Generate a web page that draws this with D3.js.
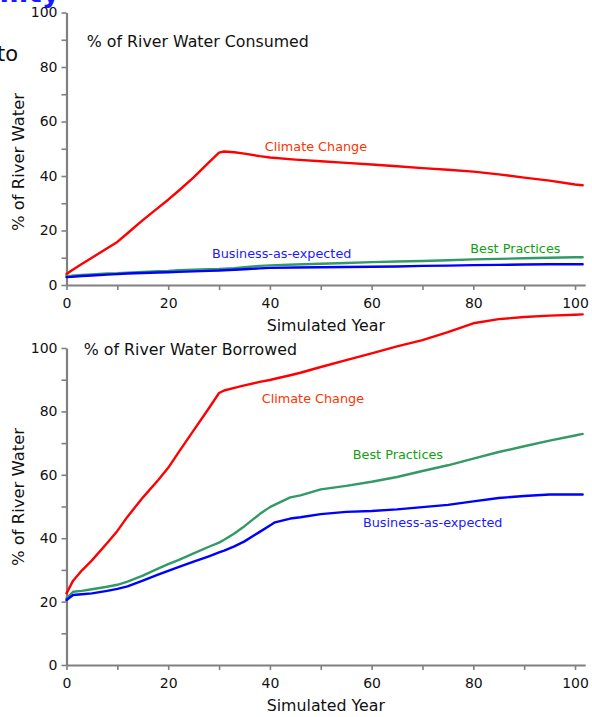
<!DOCTYPE html>
<html>
<head>
<meta charset="utf-8">
<script src="https://cdn.jsdelivr.net/npm/d3@7"></script>
<style>
  html, body { margin: 0; padding: 0; background: #fff; }
  svg { display: block; }
  text { font-family: "Comic Sans MS", "DejaVu Sans", sans-serif; }
</style>
</head>
<body>
<svg id="chart" width="592" height="717"></svg>
<script>
// ---------- DATA ----------
const xTicks = [0, 10, 20, 30, 40, 50, 60, 70, 80, 90, 100];
const yTicks = [0, 10, 20, 30, 40, 50, 60, 70, 80, 90, 100];
const seriesNames = ["Climate Change", "Best Practices", "Business-as-expected"];

// Chart 1: % of River Water Consumed
const consumedYears = [0, 1, 3, 5, 8, 10, 12, 15, 18, 20, 22, 25, 28, 30, 31, 33, 35, 38, 40, 45, 50, 55, 60, 65, 70, 75, 80, 85, 90, 95, 100, 101.5];
const consumedClimate = [4.0, 5.3, 7.7, 10.0, 13.5, 15.8, 19.0, 23.8, 28.3, 31.3, 34.5, 39.5, 45.0, 48.6, 49.0, 48.7, 48.2, 47.3, 46.8, 46.0, 45.4, 44.8, 44.2, 43.6, 42.9, 42.3, 41.6, 40.6, 39.4, 38.3, 36.9, 36.6];
const consumedBest = [3.3, 3.4, 3.7, 3.9, 4.2, 4.3, 4.5, 4.8, 5.1, 5.2, 5.4, 5.6, 5.8, 5.9, 6.0, 6.2, 6.5, 7.0, 7.2, 7.5, 7.8, 8.1, 8.4, 8.6, 8.8, 9.1, 9.4, 9.6, 9.8, 10.0, 10.2, 10.2];
const consumedBusiness = [2.9, 3.0, 3.3, 3.5, 3.8, 4.0, 4.2, 4.4, 4.6, 4.7, 4.8, 5.0, 5.2, 5.3, 5.4, 5.6, 5.8, 6.1, 6.3, 6.4, 6.5, 6.6, 6.7, 6.8, 7.0, 7.1, 7.3, 7.4, 7.5, 7.6, 7.6, 7.6];

// Chart 2: % of River Water Borrowed
const borrowedYears = [0, 1.3, 3, 5, 8, 10, 12, 15, 18, 20, 22, 25, 28, 30, 31, 33, 35, 38, 40, 41, 44, 46, 50, 55, 60, 65, 70, 75, 80, 85, 90, 95, 100, 101.5];
const borrowedClimate = [22.6, 26.6, 29.8, 33.0, 38.5, 42.3, 46.8, 52.8, 58.3, 62.2, 67.0, 74.0, 81.0, 85.8, 86.6, 87.4, 88.2, 89.3, 89.9, 90.3, 91.4, 92.2, 94.0, 96.2, 98.3, 100.5, 102.5, 105.0, 107.8, 109.1, 109.8, 110.2, 110.5, 110.6];
const borrowedBest = [21.0, 23.1, 23.4, 23.9, 24.7, 25.3, 26.3, 28.2, 30.4, 31.8, 33.1, 35.2, 37.3, 38.6, 39.5, 41.5, 43.8, 47.6, 49.8, 50.6, 52.9, 53.5, 55.4, 56.5, 57.8, 59.3, 61.2, 63.0, 65.1, 67.2, 69.0, 70.8, 72.4, 72.9];
const borrowedBusiness = [20.5, 22.1, 22.3, 22.6, 23.4, 24.0, 24.8, 26.6, 28.5, 29.7, 30.9, 32.6, 34.3, 35.5, 36.1, 37.4, 39.0, 42.0, 44.0, 45.0, 46.2, 46.6, 47.6, 48.3, 48.6, 49.1, 49.8, 50.5, 51.6, 52.7, 53.3, 53.8, 53.8, 53.8];

// Label anchor positions (data coordinates: [year, value])
const consumedLabelPos = [[39.0, 49.2], [79.4, 11.7], [28.6, 9.9]];
const borrowedLabelPos = [[38.4, 82.5], [56.3, 65.1], [58.3, 43.5]];

// ---------- STYLE ----------
const lineColors = ["#ff0000", "#339966", "#0000ff"];
const labelColors = ["#ff3300", "#11a011", "#1a1aff"];
const axisColor = "#808080";
const fontStack = "\"Comic Sans MS\", \"DejaVu Sans\", sans-serif";

const svg = d3.select("#chart");

// page fragments from the surrounding slide (cut off at the edges, as in the source)
svg.append("text").attr("x", 60).attr("y", 2).attr("text-anchor", "end")
  .attr("font-size", 28).attr("font-weight", "bold").attr("fill", "#1a1aff").text("Sustainability");
svg.append("text").attr("x", 18).attr("y", 61).attr("text-anchor", "end")
  .attr("font-size", 21).attr("fill", "#111").text("to");

function drawChart(cfg) {
  const x = d3.scaleLinear().domain([0, 102]).range([66.5, 585.2]);
  const y = d3.scaleLinear().domain([0, 100]).range([cfg.y0, cfg.y100]);
  const g = svg.append("g");

  // axes
  const xAxis = d3.axisBottom(x).tickValues(xTicks).tickSize(5).tickSizeOuter(0)
    .tickPadding(8).tickFormat(d => d % 20 === 0 ? d : "");
  const yAxis = d3.axisLeft(y).tickValues(yTicks).tickSize(5).tickSizeOuter(0)
    .tickPadding(4).tickFormat(d => d % 20 === 0 ? d : "");

  const gx = g.append("g").attr("transform", `translate(0,${cfg.y0})`).call(xAxis);
  const gy = g.append("g").attr("transform", `translate(${x(0)},0)`).call(yAxis);
  [gx, gy].forEach(a => {
    a.attr("font-family", fontStack).attr("font-size", 14);
    a.select(".domain").attr("stroke", axisColor).attr("stroke-width", 2.2);
    a.selectAll(".tick line").attr("stroke", axisColor).attr("stroke-width", 1.6);
    a.selectAll(".tick text").attr("fill", "#111").attr("font-size", 14);
  });

  // lines
  const line = d3.line().x(d => x(d[0])).y(d => y(d[1]));
  cfg.series.forEach((vals, i) => {
    const pts = cfg.years.map((yr, j) => [yr, vals[j]]);
    g.append("path").datum(pts).attr("d", line).attr("fill", "none")
      .attr("stroke", lineColors[i]).attr("stroke-width", 2.4)
      .attr("stroke-linejoin", "round").attr("stroke-linecap", "round");
  });

  // series labels
  cfg.labelPos.forEach((p, i) => {
    g.append("text").attr("x", x(p[0])).attr("y", y(p[1]))
      .attr("font-size", 12.8).attr("fill", labelColors[i]).text(seriesNames[i]);
  });

  // title
  g.append("text").attr("x", x(cfg.titlePos[0])).attr("y", y(cfg.titlePos[1]))
    .attr("font-size", 15.8).attr("fill", "#111").text(cfg.title);

  // axis titles
  g.append("text").attr("x", x(51)).attr("y", cfg.y0 + 46).attr("text-anchor", "middle")
    .attr("font-size", 15.8).attr("fill", "#111").text("Simulated Year");
  g.append("text").attr("transform", `translate(24,${cfg.yLabelCenter}) rotate(-90)`)
    .attr("text-anchor", "middle").attr("font-size", 16.4).attr("fill", "#111").text("% of River Water");
}

drawChart({
  y0: 285, y100: 12.5,
  years: consumedYears,
  series: [consumedClimate, consumedBest, consumedBusiness],
  labelPos: consumedLabelPos,
  title: "% of River Water Consumed",
  titlePos: [4.0, 87.5],
  yLabelCenter: 162
});

drawChart({
  y0: 665, y100: 348,
  years: borrowedYears,
  series: [borrowedClimate, borrowedBest, borrowedBusiness],
  labelPos: borrowedLabelPos,
  title: "% of River Water Borrowed",
  titlePos: [3.4, 97.7],
  yLabelCenter: 497
});
</script>
</body>
</html>
